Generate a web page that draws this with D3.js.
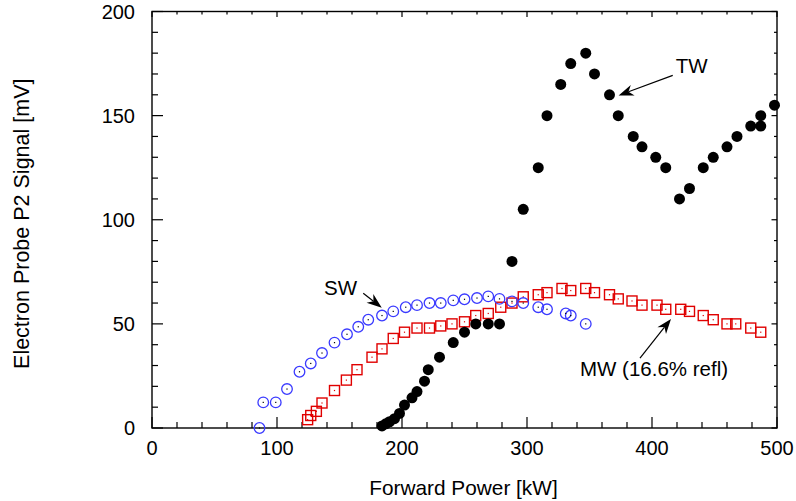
<!DOCTYPE html>
<html>
<head>
<meta charset="utf-8">
<script src="https://cdn.jsdelivr.net/npm/d3@7"></script>
<style>
  body { margin: 0; background: #fff; }
  svg { display: block; font-family: "Liberation Sans", Arial, sans-serif; }
</style>
</head>
<body>
<div id="chart"></div>
<script>
// TW (filled black circles)
const twPower = [184, 187, 190, 194, 198, 202, 208, 212, 218, 221, 230, 241, 250, 259, 269, 278, 288, 297, 309, 316,
  327, 335, 347, 354, 366, 373, 385, 392, 403, 411, 422, 430, 441, 449, 460, 468, 479, 487, 487, 498]
const twSignal = [1, 2, 3, 4.5, 7, 11, 14.5, 17.5, 22.5, 28, 34, 41, 46, 50, 50, 50, 80, 105, 125, 150,
  165, 175, 180, 170, 160, 150, 140, 135, 130, 125, 110, 115, 125, 130, 135, 140, 145, 145, 150, 155]

// SW (blue open circles)
const swPower = [86, 89, 99, 108, 118, 127, 136, 146, 156, 165, 173, 184, 193, 203, 212, 222, 231, 241, 250, 260,
  269, 278, 288, 297, 309, 316, 331, 335, 347]
const swSignal = [0, 12.3, 12.3, 18.7, 27, 31, 36, 41, 45, 48.6, 52, 54, 56, 58, 59, 60, 60, 61.3, 61.8, 62.4,
  63.2, 62, 60.8, 60, 58, 57, 55, 54, 50]

// MW 16.6% refl (red open squares)
const mwPower = [124.5, 127, 131.5, 136, 146, 155.5, 164, 176, 184, 193, 202, 212, 222, 231, 240, 250, 259, 269, 279, 288,
  297, 309, 316, 328, 335, 347, 354, 366, 373, 384, 392, 404, 411, 423, 430, 441, 449, 460, 467, 479, 487]
const mwSignal = [4, 6, 8, 12, 18, 23, 28, 34, 38, 43, 46, 48, 48, 49, 50, 51, 54, 55, 58, 60,
  63, 64, 65, 67, 66, 67, 65, 64, 62, 61, 59, 59, 57, 57, 56, 54, 52, 50, 50, 48, 46]

const xMajor = [0, 100, 200, 300, 400, 500]
const yMajor = [0, 50, 100, 150, 200]

// annotations: label position and arrow (from -> tip), in data units
const notes = [
  { text: 'TW', x: 419, y: 170.5, from: [416.6, 169.3], to: [373.3, 159.7] },
  { text: 'SW', x: 137.6, y: 63.8, from: [169, 64.7], to: [183.8, 57.8] },
  { text: 'MW (16.6% refl)', x: 342.4, y: 25, from: [390.4, 33.6], to: [415.2, 52.4] }
]

const width = 796
const height = 501
const margin = { top: 11.5, right: 19, bottom: 73, left: 152 }

const x = d3.scaleLinear().domain([0, 500]).range([margin.left, width - margin.right])
const y = d3.scaleLinear().domain([0, 200]).range([height - margin.bottom, margin.top])

const svg = d3.select('#chart').append('svg').attr('width', width).attr('height', height)

const x0 = x(0), x1 = x(500), y0 = y(0), y1 = y(200)

// ticks, all inward on four sides
const xMinor = d3.range(0, 501, 20).filter(d => d % 100 !== 0)
const yMinor = d3.range(0, 201, 10).filter(d => d % 50 !== 0)
const tg = svg.append('g').attr('stroke', '#000').attr('stroke-width', 1.2)
const xt = xMajor.map(d => ({ v: d, len: 11 })).concat(xMinor.map(d => ({ v: d, len: 6 })))
const yt = yMajor.map(d => ({ v: d, len: 11 })).concat(yMinor.map(d => ({ v: d, len: 6 })))
tg.selectAll('.xb').data(xt).join('line')
  .attr('x1', d => x(d.v)).attr('x2', d => x(d.v)).attr('y1', y0).attr('y2', d => y0 - d.len)
tg.selectAll('.xt').data(xt).join('line').attr('class', 'xt')
  .attr('x1', d => x(d.v)).attr('x2', d => x(d.v)).attr('y1', y1).attr('y2', d => y1 + d.len * 0.5)
tg.selectAll('.yl').data(yt).join('line').attr('class', 'yl')
  .attr('y1', d => y(d.v)).attr('y2', d => y(d.v)).attr('x1', x0).attr('x2', d => x0 + d.len)
tg.selectAll('.yr').data(yt).join('line').attr('class', 'yr')
  .attr('y1', d => y(d.v)).attr('y2', d => y(d.v)).attr('x1', x1).attr('x2', d => x1 - d.len * 0.5)

svg.append('rect')
  .attr('x', x0).attr('y', y1).attr('width', x1 - x0).attr('height', y0 - y1)
  .attr('fill', 'none').attr('stroke', '#000').attr('stroke-width', 1.4)

// tick labels
svg.append('g').attr('font-size', 20).attr('text-anchor', 'middle')
  .selectAll('text').data(xMajor).join('text')
  .attr('x', d => x(d)).attr('y', y0 + 27).text(d => d)
svg.append('g').attr('font-size', 20).attr('text-anchor', 'end')
  .selectAll('text').data(yMajor).join('text')
  .attr('x', x0 - 17).attr('y', d => y(d)).attr('dy', '0.36em').text(d => d)

// axis titles
svg.append('text').attr('font-size', 20.8).attr('text-anchor', 'middle')
  .attr('x', (x0 + x1) / 2 - 1).attr('y', 495).text('Forward Power [kW]')
svg.append('text').attr('font-size', 21.5).attr('text-anchor', 'middle')
  .attr('transform', `translate(29,${(y0 + y1) / 2 + 4}) rotate(-90)`)
  .text('Electron Probe P2 Signal [mV]')

// data
const mw = mwPower.map((d, i) => [d, mwSignal[i]])
const sw = swPower.map((d, i) => [d, swSignal[i]])
const tw = twPower.map((d, i) => [d, twSignal[i]])
const red = '#e00000'
const blue = '#3a3aff'

const gm = svg.append('g')
gm.selectAll('rect.sq').data(mw).join('rect').attr('class', 'sq')
  .attr('x', d => x(d[0]) - 5).attr('y', d => y(d[1]) - 5)
  .attr('width', 10).attr('height', 10)
  .attr('fill', 'none').attr('stroke', red).attr('stroke-width', 1.4)
gm.selectAll('rect.dot').data(mw).join('rect').attr('class', 'dot')
  .attr('x', d => x(d[0]) - 0.6).attr('y', d => y(d[1]) - 0.6)
  .attr('width', 1.2).attr('height', 1.2).attr('fill', red)

const gs = svg.append('g')
gs.selectAll('circle').data(sw).join('circle')
  .attr('cx', d => x(d[0])).attr('cy', d => y(d[1])).attr('r', 5.3)
  .attr('fill', 'none').attr('stroke', blue).attr('stroke-width', 1.3)
gs.selectAll('rect').data(sw).join('rect')
  .attr('x', d => x(d[0]) - 0.6).attr('y', d => y(d[1]) - 0.6)
  .attr('width', 1.2).attr('height', 1.2).attr('fill', '#000')

svg.append('g').selectAll('circle').data(tw).join('circle')
  .attr('cx', d => x(d[0])).attr('cy', d => y(d[1])).attr('r', 5.5)
  .attr('fill', '#000')

// annotations
const ag = svg.append('g')
notes.forEach(n => {
  ag.append('text').attr('x', x(n.x)).attr('y', y(n.y)).attr('font-size', 20.5).text(n.text)
  const sx = x(n.from[0]), sy = y(n.from[1])
  const ex = x(n.to[0]), ey = y(n.to[1])
  const dx = ex - sx, dy = ey - sy
  const l = Math.hypot(dx, dy)
  const ux = dx / l, uy = dy / l
  const nx = -uy, ny = ux
  const L = 15, W = 5.5, notch = 4.5
  ag.append('line')
    .attr('x1', sx).attr('y1', sy)
    .attr('x2', ex - (L - notch) * ux).attr('y2', ey - (L - notch) * uy)
    .attr('stroke', '#000').attr('stroke-width', 1.2)
  const p = d3.path()
  p.moveTo(ex, ey)
  p.lineTo(ex - L * ux + W * nx, ey - L * uy + W * ny)
  p.lineTo(ex - (L - notch) * ux, ey - (L - notch) * uy)
  p.lineTo(ex - L * ux - W * nx, ey - L * uy - W * ny)
  p.closePath()
  ag.append('path').attr('d', p.toString()).attr('fill', '#000')
})
</script>
</body>
</html>
